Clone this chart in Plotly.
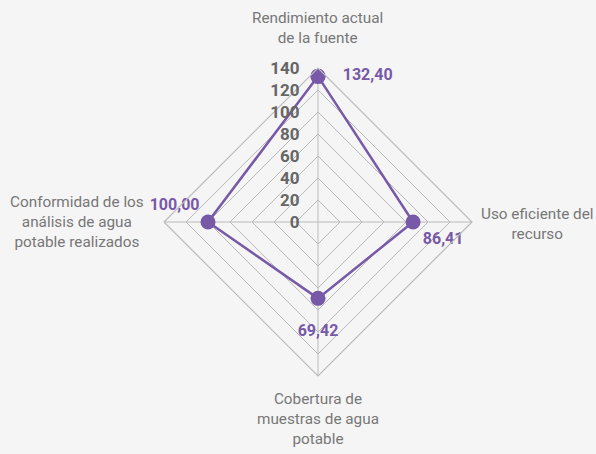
import plotly.graph_objects as go

categorias = ["Rendimiento actual<br>de la fuente",
              "Uso eficiente del<br>recurso",
              "Cobertura de<br>muestras de agua<br>potable",
              "Conformidad de los<br>análisis de agua<br>potable realizados"]
claves = ["rend", "uso", "cob", "conf"]
valores = [132.40, 86.41, 69.42, 100.00]
etiquetas = ["132,40", "86,41", "69,42", "100,00"]
ticks = [0, 20, 40, 60, 80, 100, 120, 140]

morado = "#7759a8"
gris_txt = "#777777"
gris_grid = "#bababa"
fondo = "#f5f5f5"

fig = go.Figure()

fig.add_trace(go.Scatterpolar(
    r=valores + [valores[0]],
    theta=claves + [claves[0]],
    mode="lines+markers",
    line=dict(color=morado, width=2.5),
    marker=dict(size=15, color=morado),
    hoverinfo="skip",
    showlegend=False,
))

# etiquetas de valor (marcador invisible para separar el texto)
fig.add_trace(go.Scatterpolar(
    r=valores,
    theta=claves,
    mode="markers+text",
    text=etiquetas,
    textposition=["middle right", "bottom right", "bottom center", "top left"],
    marker=dict(size=[38, 14, 40, 12], opacity=0),
    textfont=dict(family="Roboto", size=16, color=morado, weight="bold"),
    cliponaxis=False,
    hoverinfo="skip",
    showlegend=False,
))

fig.update_layout(
    width=596, height=454,
    margin=dict(l=0, r=0, t=0, b=0),
    paper_bgcolor=fondo,
    plot_bgcolor=fondo,
    polar=dict(
        domain=dict(x=[164 / 596, 472 / 596], y=[78 / 454, 386 / 454]),
        bgcolor=fondo,
        gridshape="linear",
        radialaxis=dict(
            range=[0, 140],
            tickvals=ticks,
            angle=90,
            side="counterclockwise",
            tickangle=90,
            showline=False,
            ticks="outside",
            ticklen=12,
            tickcolor="rgba(0,0,0,0)",
            tickfont=dict(family="Roboto", size=17, color="#666666", weight="bold"),
            gridcolor=gris_grid,
            gridwidth=1.2,
        ),
        angularaxis=dict(
            categoryarray=claves,
            rotation=90,
            direction="clockwise",
            showticklabels=False,
            ticks="",
            showline=True,
            linecolor=gris_grid,
            linewidth=1.2,
            gridcolor=gris_grid,
            gridwidth=1.2,
        ),
    ),
)

# nombres de los ejes
posiciones = [(318, 28), (537, 224), (318, 419), (77, 222)]
for texto, (px, py) in zip(categorias, posiciones):
    fig.add_annotation(
        x=px / 596, y=1 - py / 454, xref="paper", yref="paper",
        text=texto, showarrow=False, align="center",
        xanchor="center", yanchor="middle",
        font=dict(family="Roboto", size=15.3, color=gris_txt),
    )

fig.write_html("out.html", config={"displayModeBar": False},
               post_script="document.body.style.margin='0';")
